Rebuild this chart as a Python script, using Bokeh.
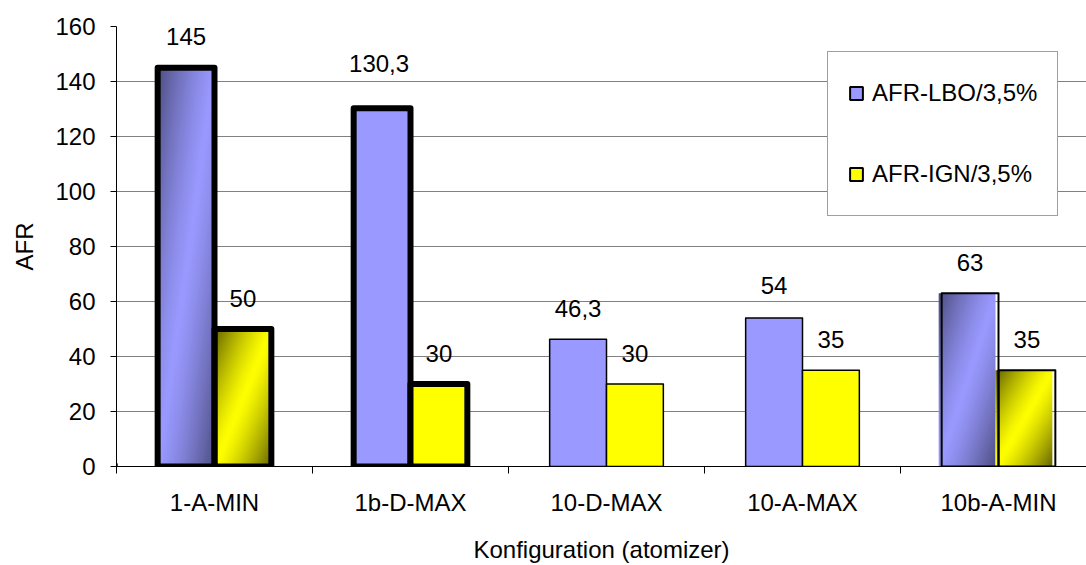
import numpy as np
from bokeh.plotting import figure
from bokeh.models import Range1d, FixedTicker, Legend, LegendItem, ColumnDataSource
from bokeh.core.properties import value
from bokeh.embed import file_html
from bokeh.resources import INLINE

# ---- data ----
categories = ["1-A-MIN", "1b-D-MAX", "10-D-MAX", "10-A-MAX", "10b-A-MIN"]
lbo = [145, 130.3, 46.3, 54, 63]
ign = [50, 30, 30, 35, 35]
series_names = ["AFR-LBO/3,5%", "AFR-IGN/3,5%"]
y_ticks = [0, 20, 40, 60, 80, 100, 120, 140, 160]

# ---- styles ----
FONT = "Liberation Sans"
FS = "24px"
BLUE = (153, 153, 255)
BLUE_DARK = (78, 78, 130)
YEL = (255, 255, 0)
YEL_DARK = (100, 100, 0)
border_w = [6, 6, 1.5, 1.5, 2]
gradient = [True, False, False, False, True]
bar_w = 0.29
off = 0.145
px_per_unit = 441 / 160.0
px_per_cat = 196.0
label_extra_dy = [0, -14, 0, -2, 0]  # px, lbo labels only
label_extra_dx = [0, -3, 0, 0, 0]

W, H = 1086, 565
ML, MT, MB = 116, 26, 98

p = figure(width=W, height=H, output_backend="svg", toolbar_location=None,
           x_range=Range1d(0, (W - ML) / px_per_cat), y_range=Range1d(0, 160),
           min_border_left=ML, min_border_right=0, min_border_top=MT, min_border_bottom=MB)
p.outline_line_color = None
p.background_fill_color = "white"
p.border_fill_color = "white"

# grid
p.xgrid.visible = False
p.ygrid.ticker = FixedTicker(ticks=y_ticks)
p.ygrid.grid_line_color = "#808080"
p.ygrid.grid_line_width = 1

# y axis
p.yaxis.ticker = FixedTicker(ticks=y_ticks)
p.yaxis.axis_label = "AFR"
p.yaxis.axis_line_color = "black"
p.yaxis.major_tick_line_color = "black"
p.yaxis.major_tick_in = 0
p.yaxis.major_tick_out = 6
p.yaxis.minor_tick_line_color = None
p.yaxis.major_label_standoff = 15
p.yaxis.axis_label_standoff = 14

# x axis
centers = [i + 0.5 for i in range(len(categories))]
p.xaxis.ticker = FixedTicker(ticks=centers, minor_ticks=list(range(len(categories) + 1)))
p.xaxis.major_label_overrides = {c: lab for c, lab in zip(centers, categories)}
p.xaxis.axis_label = "Konfiguration (atomizer)"
p.xaxis.axis_line_color = "black"
p.xaxis.major_tick_line_color = None
p.xaxis.major_tick_in = 0
p.xaxis.major_tick_out = 0
p.xaxis.minor_tick_line_color = "black"
p.xaxis.minor_tick_in = 0
p.xaxis.minor_tick_out = 7
p.xaxis.major_label_standoff = 15
p.xaxis.axis_label_standoff = 17

for ax in (p.xaxis, p.yaxis):
    ax.major_label_text_font = FONT
    ax.major_label_text_font_size = FS
    ax.major_label_text_color = "black"
    ax.axis_label_text_font = FONT
    ax.axis_label_text_font_size = FS
    ax.axis_label_text_font_style = "normal"
    ax.axis_label_text_color = "black"


def grad_image(val, light, dark):
    w = int(round(bar_w * px_per_cat))
    h = max(2, int(round(val * px_per_unit)))
    u = np.linspace(0, 1, w)
    v = np.linspace(0, 1, h)
    U, V = np.meshgrid(u, v)
    f = np.abs(U + V - 1.0) ** 1.3
    light = np.array(light, dtype=float)
    dark = np.array(dark, dtype=float)
    rgb = light[None, None, :] + (dark - light)[None, None, :] * f[..., None]
    img = np.empty((h, w), dtype=np.uint32)
    view = img.view(dtype=np.uint8).reshape((h, w, 4))
    view[..., 0:3] = np.clip(rgb, 0, 255).astype(np.uint8)
    view[..., 3] = 255
    return img[::-1].copy()


# gradient fills (images)
for i, g in enumerate(gradient):
    if not g:
        continue
    shift = -3 / px_per_cat if i == len(categories) - 1 else 0.0
    for vals, sgn, light, dark in ((lbo, -1, BLUE, BLUE_DARK), (ign, 1, YEL, YEL_DARK)):
        xc = i + 0.5 + sgn * off
        p.image_rgba(image=[grad_image(vals[i], light, dark)], x=xc - bar_w / 2 + shift, y=0,
                     dw=bar_w, dh=vals[i])


def hexc(c):
    return "#%02x%02x%02x" % c


# bars
for vals, sgn, col in ((lbo, -1, BLUE), (ign, 1, YEL)):
    src = ColumnDataSource(dict(
        x=[i + 0.5 + sgn * off for i in range(len(categories))],
        top=vals,
        fill=[None if g else hexc(col) for g in gradient],
        lw=border_w,
    ))
    p.vbar(x="x", top="top", bottom=0, width=bar_w, source=src, fill_color="fill",
           line_color="black", line_width="lw", line_join="round")


# value labels
def fmt(v):
    return ("%g" % v).replace(".", ",")


src_l = ColumnDataSource(dict(
    x=[i + 0.5 - off + label_extra_dx[i] / px_per_cat for i in range(len(categories))],
    y=[v - label_extra_dy[i] / px_per_unit for i, v in enumerate(lbo)],
    t=[fmt(v) for v in lbo]))
p.text(x="x", y="y", text="t", source=src_l, text_align="center", text_baseline="alphabetic",
       y_offset=-31, text_font=value(FONT), text_font_size=FS, text_color="black")
src_r = ColumnDataSource(dict(
    x=[i + 0.5 + off for i in range(len(categories))], y=ign, t=[fmt(v) for v in ign]))
p.text(x="x", y="y", text="t", source=src_r, text_align="center", text_baseline="alphabetic",
       y_offset=-31, text_font=value(FONT), text_font_size=FS, text_color="black")

# legend swatches: dummy renderers placed outside the visible range
r1 = p.vbar(x=[-10], top=[1], width=0.1, fill_color=hexc(BLUE), line_color="black", line_width=2)
r2 = p.vbar(x=[-10], top=[1], width=0.1, fill_color=hexc(YEL), line_color="black", line_width=2)
legend = Legend(items=[LegendItem(label=series_names[0], renderers=[r1]),
                       LegendItem(label=series_names[1], renderers=[r2])],
                location=(711, 250), orientation="vertical", padding=20, spacing=39,
                label_height=42, glyph_width=16, glyph_height=16, label_standoff=8,
                border_line_color="#404040", border_line_width=1, background_fill_color="white",
                background_fill_alpha=1, label_text_font=FONT, label_text_font_size=FS,
                label_text_color="black", margin=0)
p.add_layout(legend)

open("out.html", "w").write(file_html(p, INLINE))
